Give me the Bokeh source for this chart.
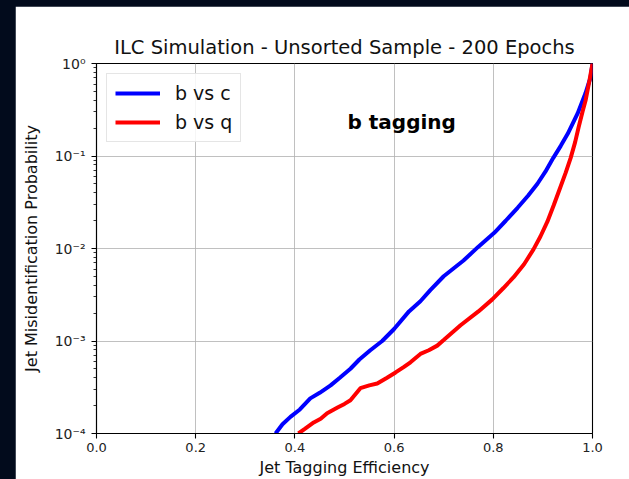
import numpy as np
from bokeh.plotting import figure
from bokeh.models import FixedTicker, Label, Legend, LegendItem, PrintfTickFormatter
from bokeh.embed import file_html
from bokeh.resources import INLINE

# ---- data ----
bc_eff = [0.361, 0.375, 0.391, 0.410, 0.431, 0.450, 0.472, 0.490, 0.512, 0.530,
          0.552, 0.576, 0.600, 0.630, 0.653, 0.673, 0.700, 0.740, 0.770, 0.802,
          0.825, 0.849, 0.870, 0.889, 0.905, 0.921, 0.936, 0.950, 0.970, 0.986,
          0.996, 1.000]
bc_log10 = [-4.00, -3.90, -3.82, -3.74, -3.62, -3.56, -3.48, -3.40, -3.30, -3.20,
            -3.10, -3.00, -2.87, -2.68, -2.57, -2.45, -2.30, -2.13, -1.98, -1.83,
            -1.70, -1.56, -1.43, -1.30, -1.17, -1.02, -0.89, -0.76, -0.54, -0.32,
            -0.15, 0.00]

bq_eff = [0.407, 0.420, 0.438, 0.452, 0.465, 0.486, 0.500, 0.512, 0.532, 0.550,
          0.566, 0.585, 0.603, 0.620, 0.633, 0.653, 0.670, 0.687, 0.700, 0.734,
          0.770, 0.798, 0.820, 0.841, 0.862, 0.881, 0.895, 0.909, 0.922, 0.935,
          0.946, 0.956, 0.965, 0.972, 0.980, 0.986, 0.994, 1.000]
bq_log10 = [-4.00, -3.95, -3.88, -3.84, -3.78, -3.72, -3.68, -3.64, -3.51, -3.48,
            -3.46, -3.40, -3.34, -3.28, -3.23, -3.14, -3.10, -3.05, -2.99, -2.83,
            -2.68, -2.55, -2.43, -2.31, -2.17, -2.01, -1.87, -1.71, -1.53, -1.34,
            -1.18, -1.02, -0.85, -0.69, -0.52, -0.40, -0.18, 0.00]

x_ticks = [0.0, 0.2, 0.4, 0.6, 0.8, 1.0]
y_ticks = [1e-4, 1e-3, 1e-2, 1e-1, 1e0]
y_tick_labels = ["10\u207b\u2074", "10\u207b\u00b3", "10\u207b\u00b2", "10\u207b\u00b9", "10\u2070"]

title_text = "ILC Simulation - Unsorted Sample - 200 Epochs"
x_label = "Jet Tagging Efficiency"
y_label = "Jet Misidentification Probability"
series_names = ["b vs c", "b vs q"]
annotation = "b tagging"

bc_prob = np.power(10.0, bc_log10)
bq_prob = np.power(10.0, bq_log10)

FONT = "DejaVu Sans"

p = figure(width=614, height=473, output_backend="svg", toolbar_location=None,
           y_axis_type="log", x_range=(0.0, 1.0), y_range=(1e-4, 1.0),
           min_border_left=81, min_border_right=37, min_border_top=57, min_border_bottom=46)
p.border_fill_color = "white"
p.background_fill_color = "white"
p.outline_line_color = "black"
p.outline_line_width = 1.1

p.title.text = title_text
p.title.align = "center"
p.title.text_font = FONT
p.title.text_font_size = "19.5px"
p.title.text_font_style = "normal"
p.title.text_color = "#111111"
p.title.standoff = 10

r1 = p.line(bc_eff, bc_prob, line_color="#0000ff", line_width=4)
r2 = p.line(bq_eff, bq_prob, line_color="#ff0000", line_width=4)

# axes
p.xaxis.ticker = FixedTicker(ticks=x_ticks)
p.xaxis.formatter = PrintfTickFormatter(format="%.1f")
minor = [m * 10.0 ** e for e in range(-4, 0) for m in range(2, 10)]
p.yaxis.ticker = FixedTicker(ticks=y_ticks, minor_ticks=minor)
p.yaxis.major_label_overrides = {t: l for t, l in zip(y_ticks, y_tick_labels)}

for ax in (p.xaxis, p.yaxis):
    ax.axis_line_color = "black"
    ax.axis_line_width = 1.1
    ax.major_tick_line_color = "black"
    ax.major_tick_line_width = 1.1
    ax.major_tick_out = 5
    ax.major_tick_in = 0
    ax.minor_tick_line_color = "black"
    ax.minor_tick_line_width = 0.8
    ax.minor_tick_out = 3
    ax.minor_tick_in = 0
    ax.major_label_text_font = FONT
    ax.major_label_text_font_size = "13px"
    ax.major_label_text_color = "#222222"
    ax.axis_label_text_font = FONT
    ax.axis_label_text_font_size = "16px"
    ax.axis_label_text_font_style = "normal"
    ax.axis_label_text_color = "#111111"
p.xaxis.minor_tick_line_color = None
p.xaxis.major_label_standoff = 4
p.xaxis.axis_label_standoff = 3
p.yaxis.major_label_text_font_size = "14px"
p.yaxis.major_label_standoff = 6
p.yaxis.axis_label_standoff = 11
p.xaxis.axis_label = x_label
p.yaxis.axis_label = y_label

p.grid.grid_line_color = "#b0b0b0"
p.grid.grid_line_width = 1
p.grid.grid_line_alpha = 0.8
p.ygrid.minor_grid_line_color = None

legend = Legend(items=[LegendItem(label=series_names[0], renderers=[r1]),
                       LegendItem(label=series_names[1], renderers=[r2])],
                location="top_left", margin=10, padding=8, spacing=7,
                glyph_width=45, glyph_height=22, label_height=22, label_standoff=15,
                label_text_font=FONT, label_text_font_size="19px",
                label_text_color="#111111",
                border_line_color="#cccccc", border_line_width=1,
                background_fill_color="white", background_fill_alpha=0.85)
p.add_layout(legend)

p.add_layout(Label(x=0.506, y=10 ** -0.635, text=annotation, text_font=FONT,
                   text_font_size="20px", text_font_style="bold",
                   text_color="black", text_baseline="alphabetic"))

html = file_html(p, INLINE)
style = ("<style>html,body{background:#020b1c !important;}"
         "body{margin:0 !important;padding:6px 0 0 15px !important;box-sizing:border-box;}</style>")
html = html.replace("</head>", style + "</head>", 1)
open("out.html", "w").write(html)
